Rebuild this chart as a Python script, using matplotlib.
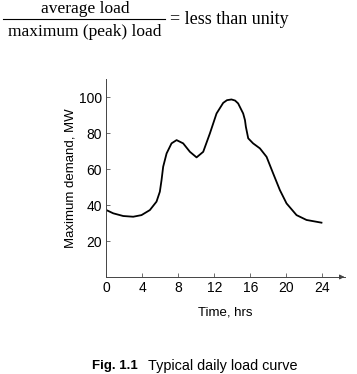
import matplotlib.pyplot as plt

plt.rcParams['font.family'] = ['Liberation Sans', 'DejaVu Sans']

# daily load curve (hours, MW)
hours = [0.0, 0.76, 1.87, 2.98, 3.9, 4.83, 5.57, 5.94, 6.13, 6.31, 6.69,
         7.24, 7.8, 8.53, 9.28, 10.02, 10.76, 11.5, 12.24, 12.98, 13.4,
         13.9, 14.3, 14.64, 15.2, 15.4, 15.5, 15.76, 16.3, 17.06, 17.8,
         18.53, 19.28, 20.02, 21.13, 22.24, 23.9]
demand = [37.2, 35.4, 33.9, 33.5, 34.4, 37.2, 41.9, 47.4, 53.9, 61.3, 68.7,
          74.3, 76.1, 74.3, 69.6, 66.5, 69.6, 79.8, 90.9, 96.8, 98.3,
          98.7, 98.1, 96.5, 90.9, 87.2, 83.5, 77.1, 74.3, 71.5, 66.8,
          57.6, 48.3, 40.9, 34.4, 31.7, 30.2]
xticks = [0, 4, 8, 12, 16, 20, 24]
yticks = [20, 40, 60, 80, 100]

fig = plt.figure(figsize=(3.57, 3.74), dpi=100)
ax = fig.add_axes([0.298, 0.2594, 0.668, 0.529])

ax.plot(hours, demand, color='black', lw=1.3, solid_joinstyle='round')

ax.set_xlim(0, 26.5)
ax.set_ylim(0, 110)
ax.set_xticks(xticks)
ax.set_yticks(yticks)
ax.tick_params(direction='in', length=3, width=0.6, labelsize=10, pad=3,
               color='#555555')
for s in ['top', 'right']:
    ax.spines[s].set_visible(False)
for s in ['left', 'bottom']:
    ax.spines[s].set_linewidth(0.7)
    ax.spines[s].set_color('#444444')
ax.annotate('', xy=(1.01, 0), xycoords='axes fraction', xytext=(0.97, 0),
            arrowprops=dict(arrowstyle='-|>', color='#444444', lw=0.7,
                            mutation_scale=7))

ax.set_xlabel('Time, hrs', fontsize=9.5, labelpad=8)
ax.set_ylabel('Maximum demand, MW', fontsize=9.5, labelpad=2)

# equation above the chart
serif = ['Liberation Serif', 'DejaVu Serif']
fig.text(85 / 357, 1 - 9 / 374, 'average load', family=serif, fontsize=12.5,
         ha='center', va='center')
fig.text(85 / 357, 1 - 32 / 374, 'maximum (peak) load', family=serif,
         fontsize=12.5, ha='center', va='center')
fig.add_artist(plt.Line2D([3 / 357, 165 / 357], [1 - 19 / 374, 1 - 19 / 374],
                          color='black', lw=0.8))
fig.text(170 / 357, 1 - 20 / 374, '= less than unity', family=serif,
         fontsize=13, ha='left', va='center')

# caption
fig.text(92 / 357, 1 - 366 / 374, 'Fig. 1.1', fontsize=9.5, weight='bold',
         ha='left', va='center')
fig.text(148 / 357, 1 - 366 / 374, 'Typical daily load curve', fontsize=10.4,
         ha='left', va='center')

fig.savefig('out.png', dpi=100)
